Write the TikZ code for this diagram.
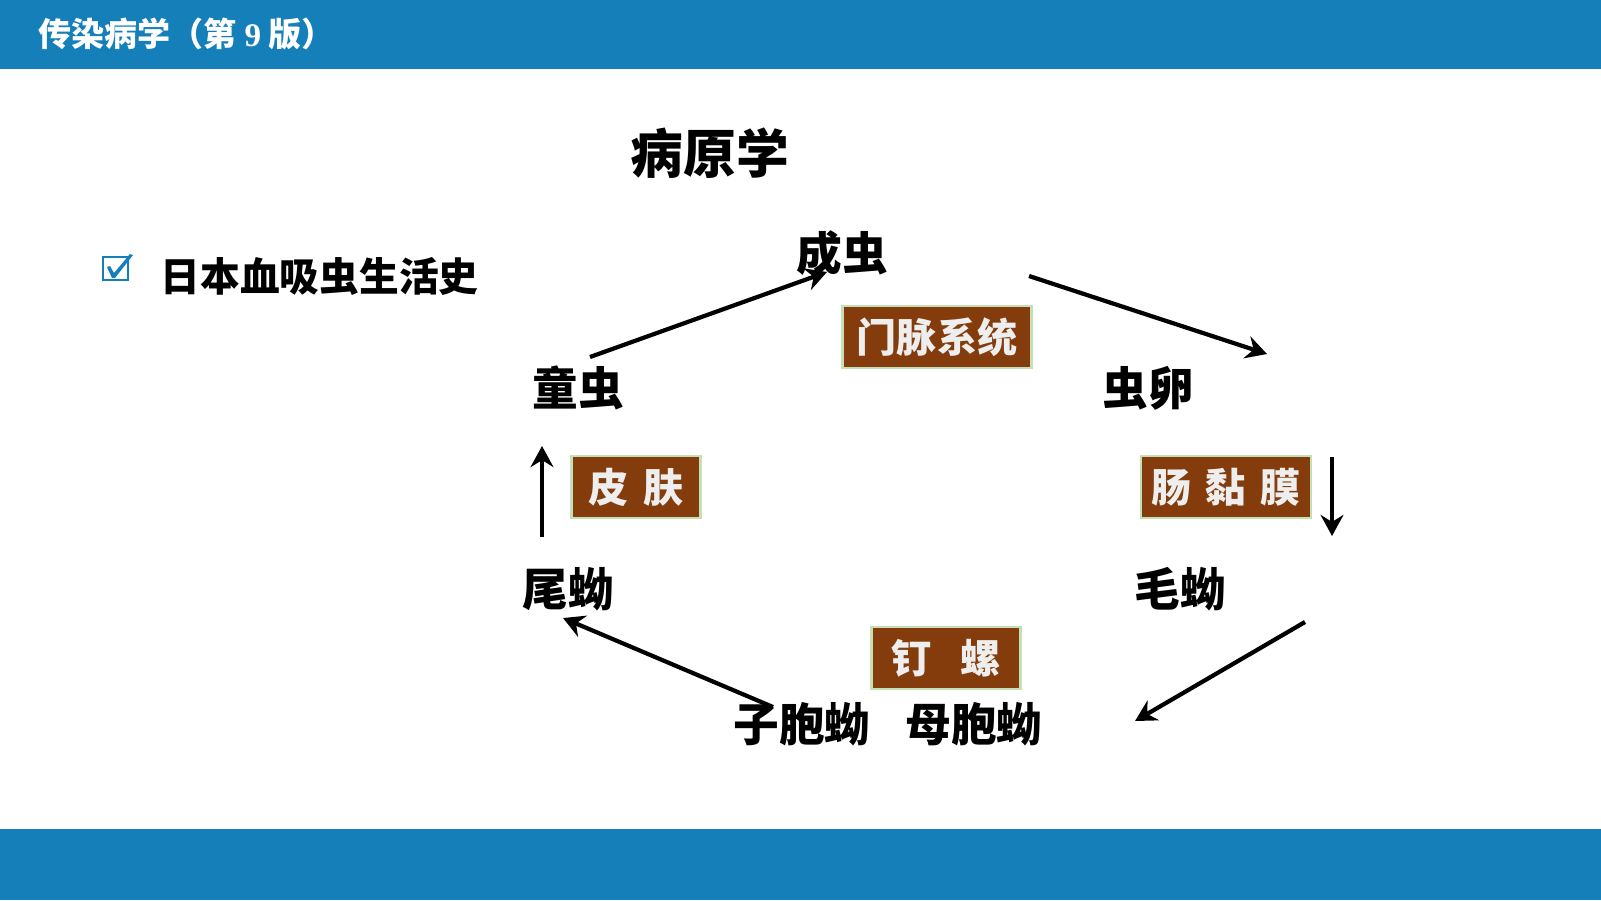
\documentclass[tikz,border=0pt]{standalone}
\usepackage{fontspec}
\usepackage{xcolor}
\usetikzlibrary{arrows.meta}
\newfontfamily\cjk{Noto Sans CJK SC}
\newfontfamily\numfont{Liberation Serif}
\definecolor{barblue}{RGB}{21,127,186}
\definecolor{boxbrown}{RGB}{132,60,12}
\definecolor{boxedge}{RGB}{197,224,180}
\definecolor{boxtext}{RGB}{238,238,238}

\begin{document}
\begin{tikzpicture}[x=0.01cm,y=-0.01cm,
	stage/.style={font=\cjk\bfseries\fontsize{13}{15}\selectfont,inner sep=0pt},
	site/.style={fill=boxbrown,draw=boxedge,line width=0.7pt,text=boxtext,
		font=\cjk\bfseries\fontsize{11.4}{13}\selectfont,minimum height=0.62cm,inner sep=0pt},
	cyc/.style={line width=1.2pt,-{Stealth[length=6pt,width=6.5pt,inset=2pt]}}]
	\useasboundingbox (0,0) rectangle (1601,900);
	% bars
	\fill[barblue] (0,0) rectangle (1601,69);
	\fill[barblue] (0,829) rectangle (1601,900);
	\node[anchor=west,text=white,inner sep=0pt,font=\cjk\bfseries\fontsize{9.4}{11}\selectfont] (book) at (38,34) {传染病学（第\ {\numfont\bfseries 9}\ 版）};
	% headings
	\node[inner sep=0pt,font=\cjk\bfseries\fontsize{15}{17}\selectfont] (title) at (710,153) {病原学};
	\draw[barblue,line width=0.8pt] (103,257) rectangle (128,280); % check box
	\fill[barblue] (107,267) -- (110,266) -- (114,273) -- (130,254) -- (133,255) -- (115,278) -- (112,278) -- cycle;
	\node[anchor=west,inner sep=0pt,font=\cjk\bfseries\fontsize{11.3}{13}\selectfont] (life) at (160,276) {日本血吸虫生活史};
	% stages of the cycle
	\node[stage] (adult) at (842,253) {成虫};
	\node[stage] (egg) at (1148,388) {虫卵};
	\node[stage] (mira) at (1180,589) {毛蚴};
	\node[stage] (mother) at (974,724) {母胞蚴};
	\node[stage] (daughter) at (802,724) {子胞蚴};
	\node[stage] (cerc) at (568,589) {尾蚴};
	\node[stage] (schist) at (578,388) {童虫};
	% where it happens
	\node[site,minimum width=1.89cm] (portal) at (937,337) {门脉系统};
	\node[site,minimum width=1.70cm] (gut) at (1226,487) {肠\hspace{0.35em}黏\hspace{0.35em}膜};
	\node[site,minimum width=1.49cm] (snail) at (946,658) {钉\hspace{0.7em}螺};
	\node[site,minimum width=1.29cm] (skin) at (636,487) {皮\hspace{0.35em}肤};
	% arrow ends
	\coordinate (a1) at (590,357); \coordinate (a2) at (827,272);
	\coordinate (b1) at (1029,276); \coordinate (b2) at (1267,354);
	\coordinate (c1) at (1332,457); \coordinate (c2) at (1332,536);
	\coordinate (d1) at (1305,622); \coordinate (d2) at (1135,721);
	\coordinate (e1) at (773,707); \coordinate (e2) at (563,618);
	\coordinate (f1) at (542,537); \coordinate (f2) at (542,446);
	\draw[cyc] (a1) -- (a2);
	\draw[cyc] (b1) -- (b2);
	\draw[cyc] (c1) -- (c2);
	\draw[cyc] (d1) -- (d2);
	\draw[cyc] (e1) -- (e2);
	\draw[cyc] (f1) -- (f2);
\end{tikzpicture}
\end{document}
